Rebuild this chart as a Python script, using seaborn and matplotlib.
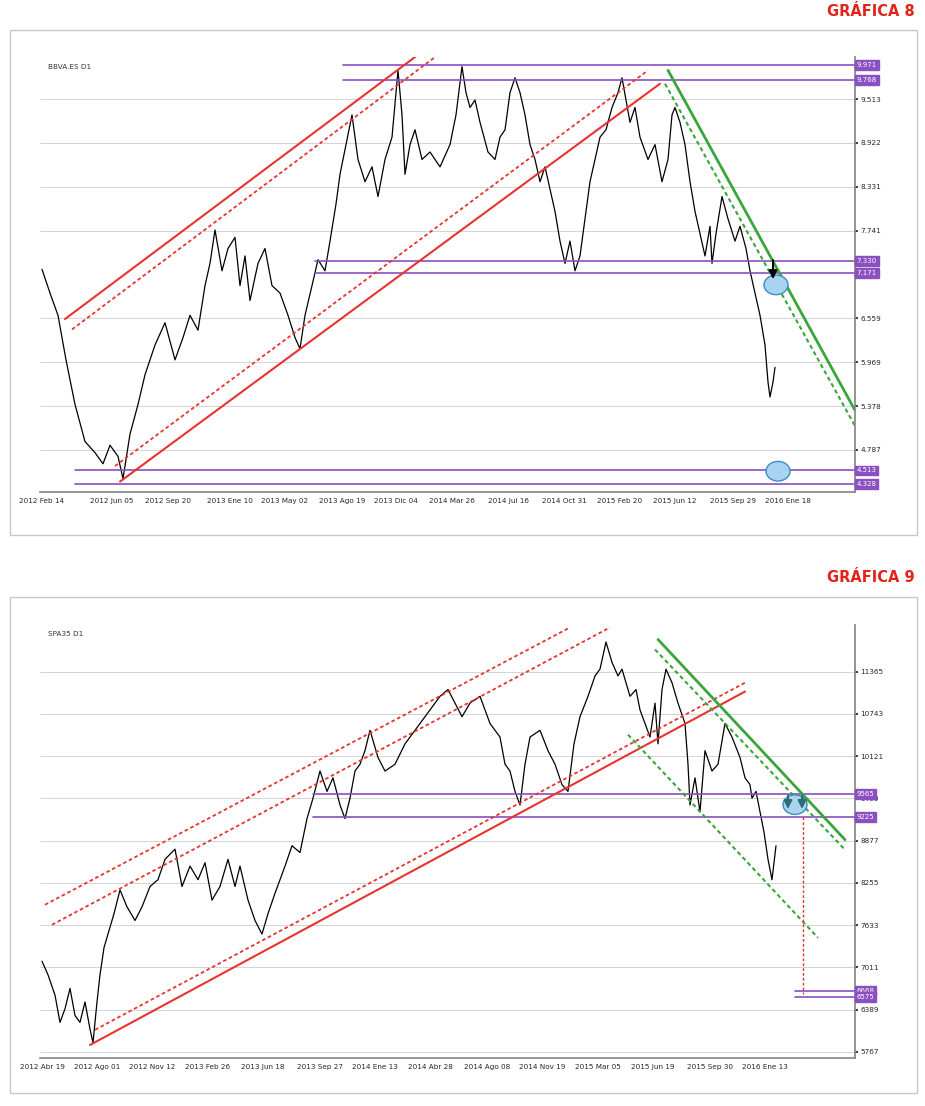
import matplotlib
matplotlib.use("Agg")
import matplotlib.pyplot as plt
from matplotlib.patches import Ellipse, Rectangle
import seaborn as sns
import pandas as pd

sns.set_theme(style="white")

# ---------------- Data: Gráfica 8 (BBVA) ----------------
bbva_x = [42,50,58,66,75,85,95,103,110,118,123,130,138,145,155,165,175,183,190,198,205,210,215,222,228,235,240,245,250,258,265,272,280,288,295,300,305,312,318,325,330,336,340,346,352,358,365,372,378,385,392,398,402,405,410,415,422,430,440,450,456,462,466,470,475,480,488,495,500,505,510,515,520,525,530,535,540,545,550,555,560,565,570,575,580,585,590,595,600,606,612,618,622,626,630,635,640,648,655,662,668,672,675,680,685,690,695,700,705,710,712,716,722,728,735,740,742,746,750,755,760,765,768,770,773,775]
bbva_y = [7.22,6.9,6.6,6.0,5.4,4.9,4.75,4.6,4.85,4.7,4.4,5.0,5.4,5.8,6.2,6.5,6.0,6.3,6.6,6.4,7.0,7.3,7.75,7.2,7.5,7.65,7.0,7.4,6.8,7.3,7.5,7.0,6.9,6.6,6.3,6.15,6.6,7.0,7.35,7.2,7.6,8.1,8.5,8.9,9.3,8.7,8.4,8.6,8.2,8.7,9.0,9.9,9.3,8.5,8.9,9.1,8.7,8.8,8.6,8.9,9.3,9.95,9.6,9.4,9.5,9.2,8.8,8.7,9.0,9.1,9.6,9.8,9.6,9.3,8.9,8.7,8.4,8.6,8.3,8.0,7.6,7.3,7.6,7.2,7.4,7.9,8.4,8.7,9.0,9.1,9.4,9.6,9.8,9.5,9.2,9.4,9.0,8.7,8.9,8.4,8.7,9.3,9.4,9.2,8.9,8.4,8.0,7.7,7.4,7.8,7.3,7.7,8.2,7.9,7.6,7.8,7.7,7.5,7.2,6.9,6.6,6.2,5.7,5.5,5.7,5.9]
bbva_ticks_pos = [42,112,168,230,285,342,396,452,508,564,620,675,733,788]
bbva_ticks_lab = ["2012 Feb 14","2012 Jun 05","2012 Sep 20","2013 Ene 10","2013 May 02","2013 Ago 19","2013 Dic 04","2014 Mar 26","2014 Jul 16","2014 Oct 31","2015 Feb 20","2015 Jun 12","2015 Sep 29","2016 Ene 18"]
bbva_yticks = [9.513,8.922,8.331,7.741,6.559,5.969,5.378,4.787]
bbva_levels = [9.971,9.768,7.330,7.171,4.513,4.328]
bbva_level_start = [343,343,315,315,75,75]
bbva_red_solid = [((65,6.55),(420,10.13)),((120,4.36),(660,9.72))]
bbva_red_dot = [((72,6.41),(440,10.13)),((115,4.57),(648,9.90))]
bbva_green_solid = [((668,9.90),(855,5.32))]
bbva_green_dot = [((665,9.72),(855,5.11))]
bbva_circles = [(776,7.01),(778,4.50)]

# ---------------- Data: Gráfica 9 (IBEX 35) ----------------
ibex_x = [42,48,55,60,65,70,75,80,85,90,93,97,100,104,108,114,120,127,135,142,150,158,165,175,182,190,198,205,212,220,228,235,240,248,255,262,268,275,285,292,300,307,313,320,327,333,340,345,350,355,360,365,370,378,385,395,405,420,430,440,448,455,462,470,480,490,500,505,510,515,520,525,530,540,548,555,562,568,574,580,588,595,600,606,612,618,622,626,630,636,640,645,650,655,658,662,666,672,678,685,688,690,695,700,705,712,718,725,732,740,745,750,752,756,760,764,768,772,776]
ibex_y = [7100,6900,6600,6200,6400,6700,6300,6200,6500,6100,5900,6500,6900,7300,7500,7800,8150,7900,7700,7900,8200,8300,8600,8750,8200,8500,8300,8550,8000,8200,8600,8200,8500,8000,7700,7500,7800,8100,8500,8800,8700,9200,9500,9900,9600,9800,9400,9200,9500,9900,10000,10200,10500,10100,9900,10000,10300,10600,10800,11000,11100,10900,10700,10900,11000,10600,10400,10000,9900,9600,9400,10000,10400,10500,10200,10000,9700,9600,10300,10700,11000,11300,11400,11800,11500,11300,11400,11200,11000,11100,10800,10600,10400,10900,10300,11100,11400,11200,10900,10600,10000,9400,9800,9300,10200,9900,10000,10600,10400,10100,9800,9700,9500,9600,9300,9000,8600,8300,8800]
ibex_ticks_pos = [42,97,152,208,263,320,375,430,487,542,598,653,710,765]
ibex_ticks_lab = ["2012 Abr 19","2012 Ago 01","2012 Nov 12","2013 Feb 26","2013 Jun 18","2013 Sep 27","2014 Ene 13","2014 Abr 28","2014 Ago 08","2014 Nov 19","2015 Mar 05","2015 Jun 19","2015 Sep 30","2016 Ene 13"]
ibex_yticks = [11365,10743,10121,9499,8877,8255,7633,7011,6389,5767]
ibex_levels = [9565,9225,6668,6575]
ibex_level_start = [313,313,795,795]
ibex_red_solid = [((90,5867),(745,11070))]
ibex_red_dot = [((95,6090),(745,11200)),((45,7931),(570,12014)),((52,7636),(610,12014))]
ibex_green_solid = [((658,11837),(845,8889))]
ibex_green_dot = [((655,11689),(845,8741)),((628,10436),(818,7444))]
ibex_circles = [(795,9405)]

W, H = 925, 1106
fig = plt.figure(figsize=(W/100, H/100), dpi=100)

def px_axes(l, t, r, b):
    return fig.add_axes([l/W, 1-b/H, (r-l)/W, (b-t)/H])

PURPLE = "#8a4fc0"
RED = "#e8332f"
GREEN = "#3aa63a"

def draw(frame, axbox, xs, ys, ticks_pos, ticks_lab, yticks, ylim, levels, lstart,
         rsolid, rdot, gsolid, gdot, circles, name, title, title_y, fmt):
    # frame
    fig.patches.append(Rectangle((frame[0]/W, 1-frame[3]/H), (frame[2]-frame[0])/W,
                                 (frame[3]-frame[1])/H, transform=fig.transFigure,
                                 fill=False, edgecolor="#c8c8c8", lw=1))
    fig.text(915/W, 1-title_y/H, title, color="#e2231a", fontsize=10.5,
             fontweight="bold", ha="right", va="center")
    ax = px_axes(*axbox)
    df = pd.DataFrame({"x": xs, "y": ys})
    sns.lineplot(data=df, x="x", y="y", ax=ax, color="black", lw=0.9)
    ax.set_xlim(40, 855)
    ax.set_ylim(*ylim)
    for yt in yticks:
        ax.axhline(yt, color="#d4d4d4", lw=0.7, zorder=0)
    for lv, st in zip(levels, lstart):
        ax.plot([st, 855], [lv, lv], color=PURPLE, lw=1.2)
    for (a, b) in rsolid:
        ax.plot([a[0], b[0]], [a[1], b[1]], color=RED, lw=1.5)
    for (a, b) in rdot:
        ax.plot([a[0], b[0]], [a[1], b[1]], color=RED, lw=1.3, ls=(0, (2, 1.5)))
    for (a, b) in gsolid:
        ax.plot([a[0], b[0]], [a[1], b[1]], color=GREEN, lw=2)
    for (a, b) in gdot:
        ax.plot([a[0], b[0]], [a[1], b[1]], color=GREEN, lw=1.5, ls=(0, (2, 1.5)))
    yr = ylim[1] - ylim[0]
    for cx, cy in circles:
        ax.add_patch(Ellipse((cx, cy), 24, yr*0.045, facecolor="#a8d4f0",
                             edgecolor="#3c8cc8", lw=1, zorder=5))
    ax.set_xticks(ticks_pos)
    ax.set_xticklabels(ticks_lab, fontsize=5.2)
    ax.yaxis.tick_right()
    ax.set_yticks(yticks)
    ax.set_yticklabels([fmt(v) for v in yticks], fontsize=5.2)
    ax.tick_params(length=2, pad=2)
    for lv in levels:
        ax.text(1.002, lv, fmt(lv), transform=ax.get_yaxis_transform(), fontsize=5,
                color="white", va="center", ha="left",
                bbox=dict(boxstyle="square,pad=0.25", fc=PURPLE, ec=PURPLE))
    ax.set_xlabel(""); ax.set_ylabel("")
    for s in ["top", "left"]:
        ax.spines[s].set_visible(False)
    for s in ["right", "bottom"]:
        ax.spines[s].set_color("#888888")
    ax.text(0.01, 0.985, name, transform=ax.transAxes, fontsize=5.2, va="top",
            color="#333333")
    return ax

ax1 = draw((10, 30, 917, 535), (40, 57, 855, 492), bbva_x, bbva_y, bbva_ticks_pos,
           bbva_ticks_lab, bbva_yticks, (4.22, 10.08), bbva_levels, bbva_level_start,
           bbva_red_solid, bbva_red_dot, bbva_green_solid, bbva_green_dot,
           bbva_circles, "BBVA.ES D1", "GRÁFICA 8", 12,
           lambda v: f"{v:.3f}")
ax1.annotate("", xy=(773, 7.05), xytext=(773, 7.38),
             arrowprops=dict(arrowstyle="-|>", color="black", lw=1.5), zorder=6)

ax2 = draw((10, 597, 917, 1093), (40, 625, 855, 1058), ibex_x, ibex_y, ibex_ticks_pos,
           ibex_ticks_lab, ibex_yticks, (5675, 12050), ibex_levels, ibex_level_start,
           ibex_red_solid, ibex_red_dot, ibex_green_solid, ibex_green_dot,
           ibex_circles, "SPA35 D1", "GRÁFICA 9", 578,
           lambda v: f"{v:.0f}")
ax2.plot([803, 803], [9225, 6620], color=RED, lw=1, ls=(0, (2, 1.5)))
for ax_x in (788, 802):
    ax2.annotate("", xy=(ax_x, 9300), xytext=(ax_x, 9580),
                 arrowprops=dict(arrowstyle="-|>", color="#2a6e7a", lw=1.5), zorder=6)

fig.savefig("out.png", dpi=100, facecolor="white")
